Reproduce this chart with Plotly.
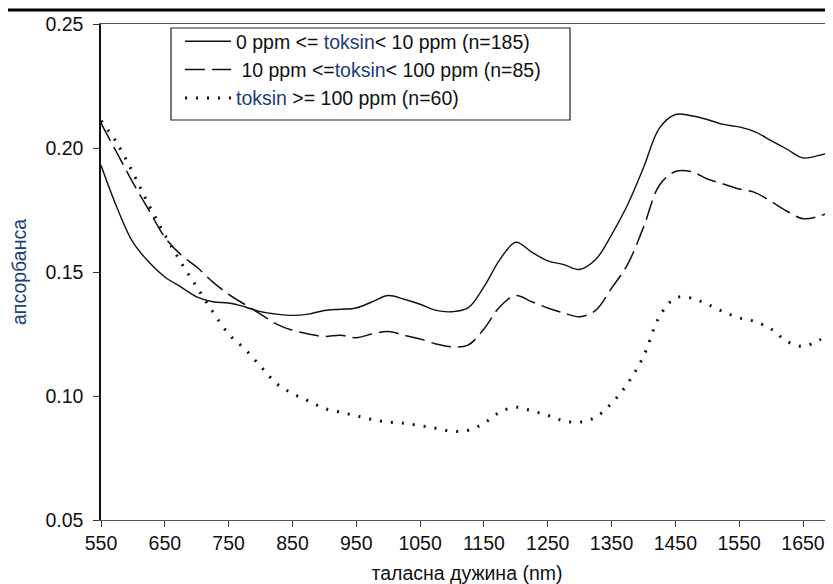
import plotly.graph_objects as go

wavelength = [550, 575, 600, 625, 650, 675, 700, 725, 750, 775, 800, 825, 850, 875, 900, 925,
              950, 975, 1000, 1025, 1050, 1075, 1100, 1125, 1150, 1175, 1200, 1225, 1250, 1275,
              1300, 1325, 1350, 1375, 1400, 1425, 1450, 1475, 1500, 1525, 1550, 1575, 1600,
              1625, 1650, 1675, 1700]

low_toxin = [0.193, 0.176, 0.162, 0.154, 0.148, 0.144, 0.140, 0.138, 0.1375, 0.136, 0.134,
             0.133, 0.1325, 0.133, 0.1345, 0.135, 0.1355, 0.138, 0.1405, 0.139, 0.137, 0.1345,
             0.134, 0.1355, 0.144, 0.155, 0.162, 0.158, 0.1545, 0.153, 0.151, 0.155, 0.165,
             0.177, 0.192, 0.208, 0.2135, 0.213, 0.2115, 0.2095, 0.2085, 0.2065, 0.203, 0.1995,
             0.196, 0.197, 0.199]

mid_toxin = [0.210, 0.198, 0.186, 0.175, 0.164, 0.157, 0.152, 0.146, 0.141, 0.137, 0.133,
             0.129, 0.1265, 0.125, 0.124, 0.1245, 0.1235, 0.125, 0.126, 0.1245, 0.123, 0.121,
             0.1198, 0.1205, 0.127, 0.136, 0.1405, 0.138, 0.1355, 0.1335, 0.132, 0.1345,
             0.1435, 0.153, 0.168, 0.185, 0.1905, 0.1905, 0.1875, 0.1855, 0.1835, 0.182,
             0.1785, 0.1745, 0.1715, 0.1725, 0.175]

high_toxin = [0.211, 0.202, 0.190, 0.177, 0.165, 0.154, 0.144, 0.134, 0.125, 0.119, 0.112,
              0.105, 0.101, 0.098, 0.095, 0.0935, 0.092, 0.0905, 0.0895, 0.089, 0.088, 0.087,
              0.0858, 0.0862, 0.089, 0.0935, 0.0955, 0.094, 0.0922, 0.090, 0.0895, 0.0915,
              0.097, 0.105, 0.116, 0.132, 0.1395, 0.1395, 0.137, 0.134, 0.1315, 0.130, 0.127,
              0.122, 0.120, 0.1225, 0.126]

x_ticks = [550, 650, 750, 850, 950, 1050, 1150, 1250, 1350, 1450, 1550, 1650]
y_ticks = [0.05, 0.10, 0.15, 0.20, 0.25]

BLUE = "#1c3d7a"
tk = '<span style="color:%s">toksin</span>' % BLUE
names = [
    "0 ppm <= " + tk + "< 10 ppm (n=185)",
    " 10 ppm <=" + tk + "< 100 ppm (n=85)",
    tk + " >= 100 ppm (n=60)",
]

FONT = "Liberation Sans, Arial, sans-serif"
FS = 19.5

fig = go.Figure()
fig.add_trace(go.Scatter(x=wavelength, y=low_toxin, mode="lines", name=names[0],
                         line=dict(color="#111111", width=1.4, shape="spline")))
fig.add_trace(go.Scatter(x=wavelength, y=mid_toxin, mode="lines", name=names[1],
                         line=dict(color="#111111", width=1.5, shape="spline", dash="20px,7px")))
fig.add_trace(go.Scatter(x=wavelength, y=high_toxin, mode="lines", name=names[2],
                         line=dict(color="#111111", width=3, shape="spline", dash="2px,9px")))

# page body has an 8px default margin; figure is placed at (8, 8)
OFF = 8
W, H = 833 - OFF, 584 - OFF
L, T, B, R = 101 - OFF, 24 - OFF, 64, 0
pw, ph = W - L - R, H - T - B

def px(xp):
    return (xp - OFF - L) / pw

def py(yp):
    return 1 - (yp - OFF - T) / ph

fig.update_layout(
    width=W, height=H,
    margin=dict(l=L, r=R, t=T, b=B, autoexpand=False),
    paper_bgcolor="white", plot_bgcolor="white",
    font=dict(family=FONT, size=FS, color="#111111"),
    showlegend=True,
    legend=dict(x=px(180), y=py(22), xanchor="left", yanchor="top",
                bgcolor="rgba(0,0,0,0)", borderwidth=0,
                font=dict(family=FONT, size=FS, color="#111111"),
                itemwidth=46, tracegroupgap=0),
    xaxis=dict(range=[550, 1697], tickvals=x_ticks, ticktext=[str(v) for v in x_ticks],
               automargin=False,
               showgrid=False, zeroline=False, showline=True, linecolor="#555555",
               linewidth=1, mirror=True, ticks="outside", ticklen=6, tickcolor="#333333",
               tickfont=dict(family=FONT, size=FS, color="#111111"),
               title=dict(text="таласна дужина (nm)", standoff=12,
                          font=dict(family=FONT, size=FS, color="#111111"))),
    yaxis=dict(range=[0.05, 0.25], tickvals=y_ticks, tickformat=".2f",
               automargin=False,
               showgrid=False, zeroline=False, showline=True, linecolor="#111111",
               linewidth=1.5, ticks="outside", ticklen=6, tickcolor="#333333",
               ticklabelstandoff=6,
               tickfont=dict(family=FONT, size=FS, color="#111111"),
               title=dict(text="апсорбанса", standoff=30,
                          font=dict(family=FONT, size=FS, color=BLUE))),
    shapes=[
        dict(type="line", xref="paper", yref="paper", x0=px(0), x1=px(900),
             y0=py(10), y1=py(10), line=dict(color="black", width=3)),
        dict(type="rect", xref="paper", yref="paper", x0=px(171), x1=px(570),
             y0=py(120), y1=py(28), line=dict(color="#222222", width=1.2)),
    ],
)

fig.write_html("out.html")
